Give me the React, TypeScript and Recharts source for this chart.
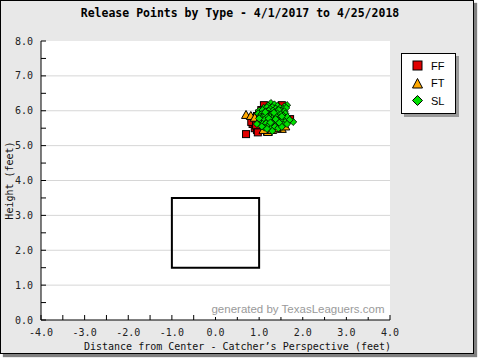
import React from 'react';
import { ScatterChart, Scatter, XAxis, YAxis, CartesianGrid, ReferenceArea, Legend, Label } from 'recharts';

const ffPoints = [
  { x: 0.70, y: 5.33 }, { x: 0.85, y: 5.62 }, { x: 0.90, y: 5.50 }, { x: 0.95, y: 5.45 },
  { x: 1.00, y: 5.55 }, { x: 1.05, y: 5.48 }, { x: 0.92, y: 5.70 }, { x: 0.88, y: 5.78 },
  { x: 0.98, y: 5.66 }, { x: 1.02, y: 5.80 }, { x: 1.08, y: 5.60 }, { x: 1.12, y: 5.52 },
  { x: 1.15, y: 5.70 }, { x: 1.00, y: 5.92 }, { x: 0.95, y: 5.85 }, { x: 1.10, y: 5.95 },
  { x: 1.11, y: 6.16 }, { x: 1.18, y: 6.05 }, { x: 1.22, y: 5.60 }, { x: 1.25, y: 5.45 },
  { x: 1.30, y: 5.52 }, { x: 1.35, y: 5.75 }, { x: 1.40, y: 5.90 }, { x: 1.52, y: 6.16 },
  { x: 1.45, y: 6.05 }, { x: 1.55, y: 5.95 }, { x: 1.71, y: 5.76 }, { x: 1.60, y: 5.70 },
  { x: 1.05, y: 6.02 }, { x: 0.82, y: 5.68 }, { x: 0.93, y: 5.58 }, { x: 1.18, y: 5.42 },
  { x: 1.28, y: 5.98 }, { x: 1.38, y: 6.10 }, { x: 1.48, y: 5.62 }, { x: 0.97, y: 5.38 },
  { x: 1.08, y: 5.78 }, { x: 1.20, y: 5.88 },
];

const ftPoints = [
  { x: 0.70, y: 5.88 }, { x: 0.81, y: 5.85 }, { x: 1.20, y: 5.39 }, { x: 1.52, y: 5.48 },
  { x: 1.30, y: 5.45 }, { x: 1.40, y: 5.50 }, { x: 0.90, y: 5.80 }, { x: 1.60, y: 5.55 },
  { x: 1.10, y: 5.45 }, { x: 1.35, y: 5.95 }, { x: 1.55, y: 5.80 }, { x: 1.00, y: 5.72 },
];

const slPoints = [
  { x: 1.27, y: 6.22 }, { x: 1.35, y: 6.18 }, { x: 1.64, y: 6.16 }, { x: 1.58, y: 6.12 },
  { x: 1.20, y: 6.15 }, { x: 1.42, y: 6.14 },
  { x: 1.10, y: 6.08 }, { x: 1.18, y: 6.10 }, { x: 1.30, y: 6.10 }, { x: 1.38, y: 6.06 },
  { x: 1.48, y: 6.08 }, { x: 1.55, y: 6.05 }, { x: 1.62, y: 6.08 }, { x: 1.25, y: 6.05 },
  { x: 1.00, y: 6.00 }, { x: 1.08, y: 6.02 }, { x: 1.15, y: 5.98 }, { x: 1.22, y: 6.00 },
  { x: 1.32, y: 6.00 }, { x: 1.40, y: 5.98 }, { x: 1.50, y: 6.00 }, { x: 1.58, y: 5.98 },
  { x: 1.45, y: 6.02 },
  { x: 0.98, y: 5.92 }, { x: 1.05, y: 5.90 }, { x: 1.12, y: 5.90 }, { x: 1.20, y: 5.92 },
  { x: 1.28, y: 5.90 }, { x: 1.35, y: 5.88 }, { x: 1.42, y: 5.92 }, { x: 1.50, y: 5.90 },
  { x: 1.60, y: 5.92 }, { x: 1.55, y: 5.86 },
  { x: 1.02, y: 5.82 }, { x: 1.10, y: 5.84 }, { x: 1.18, y: 5.80 }, { x: 1.25, y: 5.82 },
  { x: 1.32, y: 5.80 }, { x: 1.40, y: 5.82 }, { x: 1.48, y: 5.80 }, { x: 1.56, y: 5.78 },
  { x: 1.65, y: 5.82 }, { x: 1.15, y: 5.86 },
  { x: 1.05, y: 5.72 }, { x: 1.12, y: 5.74 }, { x: 1.20, y: 5.70 }, { x: 1.28, y: 5.72 },
  { x: 1.36, y: 5.70 }, { x: 1.44, y: 5.72 }, { x: 1.52, y: 5.70 }, { x: 1.60, y: 5.68 },
  { x: 1.78, y: 5.68 }, { x: 1.70, y: 5.74 },
  { x: 1.08, y: 5.62 }, { x: 1.16, y: 5.64 }, { x: 1.24, y: 5.60 }, { x: 1.32, y: 5.62 },
  { x: 1.40, y: 5.60 }, { x: 1.48, y: 5.62 }, { x: 1.56, y: 5.60 }, { x: 1.64, y: 5.62 },
  { x: 1.20, y: 5.55 },
  { x: 1.12, y: 5.52 }, { x: 1.28, y: 5.50 }, { x: 1.36, y: 5.54 }, { x: 1.44, y: 5.50 },
  { x: 1.52, y: 5.54 }, { x: 1.30, y: 5.42 }, { x: 1.18, y: 5.48 },
  { x: 1.22, y: 5.78 }, { x: 1.34, y: 5.94 }, { x: 1.46, y: 5.66 }, { x: 1.38, y: 5.76 },
  { x: 1.26, y: 5.66 }, { x: 1.14, y: 5.96 }, { x: 1.52, y: 5.84 }, { x: 1.00, y: 5.78 },
  { x: 0.95, y: 5.62 }, { x: 1.06, y: 5.55 },
];

const xTicks = [-4, -3.5, -3, -2.5, -2, -1.5, -1, -0.5, 0, 0.5, 1, 1.5, 2, 2.5, 3, 3.5, 4];
const yTicks = [0, 0.5, 1, 1.5, 2, 2.5, 3, 3.5, 4, 4.5, 5, 5.5, 6, 6.5, 7, 7.5, 8];
const yDomain = [0, 8];
const xDomain = [-4, 4];
const gridY = [1, 2, 3, 4, 5, 6, 7];
const strikeZone = { x1: -1, x2: 1, y1: 1.5, y2: 3.5 };

const RED = '#e00000';
const ORANGE = '#ffa800';
const GREEN = '#00e000';
const MONO = '"DejaVu Sans Mono", monospace';

const fmt = (v: number) => (Number.isInteger(v) ? v.toFixed(1) : '');

const gridGen = (args: any) => {
  const off = args.offset || {};
  const top = off.top ?? 0;
  const h = off.height ?? 0;
  return gridY.map((v) => top + h * (1 - (v - yDomain[0]) / (yDomain[1] - yDomain[0])));
};

const SquareShape = (p: any) => (
  <rect x={p.cx - 3.5} y={p.cy - 3.5} width={7} height={7} fill={RED} stroke="#000" strokeWidth={1} />
);
const TriangleShape = (p: any) => (
  <polygon
    points={`${p.cx},${p.cy - 4.5} ${p.cx + 4.5},${p.cy + 3.5} ${p.cx - 4.5},${p.cy + 3.5}`}
    fill={ORANGE}
    stroke="#000"
    strokeWidth={1}
  />
);
const DiamondShape = (p: any) => (
  <polygon
    points={`${p.cx},${p.cy - 3.6} ${p.cx + 3.6},${p.cy} ${p.cx},${p.cy + 3.6} ${p.cx - 3.6},${p.cy}`}
    fill={GREEN}
    stroke="#000"
    strokeWidth={0.8}
  />
);

const legendIcon = (name: string) => {
  if (name === 'FF') return <rect x={1} y={1} width={9} height={9} fill={RED} stroke="#000" strokeWidth={1} />;
  if (name === 'FT') return <polygon points="5.5,0.5 10.5,10 0.5,10" fill={ORANGE} stroke="#000" strokeWidth={1} />;
  return <polygon points="5.5,0.5 10.5,5.5 5.5,10.5 0.5,5.5" fill={GREEN} stroke="#000" strokeWidth={1} />;
};

const LegendContent = (props: any) => {
  const payload = props.payload || [];
  return (
    <div
      style={{
        width: 53,
        height: 56,
        background: '#fff',
        border: '1px solid #000',
        boxShadow: '3px 3px 0 #9a9a9a',
        paddingTop: 3,
        boxSizing: 'content-box',
      }}
    >
      {payload.map((e: any) => (
        <div key={e.value} style={{ display: 'flex', alignItems: 'center', height: 17.5 }}>
          <svg width={11} height={11} style={{ marginLeft: 10, marginRight: 8 }}>
            {legendIcon(e.value)}
          </svg>
          <span style={{ fontFamily: '"Liberation Sans", Arial, sans-serif', fontSize: 11, color: '#000' }}>{e.value}</span>
        </div>
      ))}
    </div>
  );
};

export default function App() {
  return (
    <div style={{ position: 'absolute', left: 0, top: 0, width: 480, height: 360, background: '#fff' }}>
      <div
        style={{
          position: 'absolute',
          left: 0,
          top: 0,
          width: 472,
          height: 352,
          border: '1px solid #000',
          background: '#e8e8e8',
          boxShadow: '3px 3px 1px #808080',
        }}
      />
      <div
        style={{
          position: 'absolute',
          left: 0,
          top: 6,
          width: 480,
          textAlign: 'center',
          fontFamily: MONO,
          fontWeight: 'bold',
          fontSize: 11.5,
          lineHeight: '14px',
          color: '#000',
        }}
      >
        Release Points by Type - 4/1/2017 to 4/25/2018
      </div>
      <div style={{ position: 'absolute', left: 0, top: 0 }}>
        <ScatterChart width={480} height={360} margin={{ top: 41, right: 90, left: 0, bottom: 0 }}>
          <CartesianGrid
            fill="#fff"
            stroke="#d6d6d6"
            vertical={false}
            horizontalCoordinatesGenerator={gridGen}
          />
          <XAxis
            type="number"
            dataKey="x"
            domain={xDomain}
            ticks={xTicks}
            interval={0}
            tickFormatter={fmt}
            tickSize={-5}
            tickMargin={14}
            height={40}
            stroke="#000"
            tick={{ fill: '#222', fontFamily: MONO, fontSize: 10 }}
            allowDataOverflow
          >
            <Label
              value="Distance from Center - Catcher’s Perspective (feet)"
              position="insideBottom"
              offset={10}
              dx={22}
              style={{ fill: '#111', fontFamily: MONO, fontSize: 10 }}
            />
          </XAxis>
          <YAxis
            type="number"
            dataKey="y"
            domain={yDomain}
            ticks={yTicks}
            interval={0}
            tickFormatter={fmt}
            tickSize={-5}
            tickMargin={13}
            width={41}
            stroke="#000"
            tick={{ fill: '#222', fontFamily: MONO, fontSize: 10 }}
            allowDataOverflow
          >
            <Label
              value="Height (feet)"
              angle={-90}
              position="insideLeft"
              offset={9}
              style={{ fill: '#111', fontFamily: MONO, fontSize: 10, textAnchor: 'middle' }}
            />
          </YAxis>
          <ReferenceArea
            x1={strikeZone.x1}
            x2={strikeZone.x2}
            y1={strikeZone.y1}
            y2={strikeZone.y2}
            fill="none"
            fillOpacity={0}
            stroke="#000"
            strokeWidth={2}
          />
          <Legend
            layout="vertical"
            align="center"
            verticalAlign="middle"
            content={<LegendContent />}
            wrapperStyle={{ left: 401, top: 53, width: 60, height: 62 }}
          />
          <Scatter name="FF" data={ffPoints} fill={RED} shape={SquareShape} isAnimationActive={false} />
          <Scatter name="FT" data={ftPoints} fill={ORANGE} shape={TriangleShape} isAnimationActive={false} />
          <Scatter name="SL" data={slPoints} fill={GREEN} shape={DiamondShape} isAnimationActive={false} />
        </ScatterChart>
      </div>
      <div
        style={{
          position: 'absolute',
          left: 208,
          top: 301,
          width: 180,
          height: 16,
          background: '#fff',
          color: '#9a9a9a',
          fontFamily: '"Liberation Sans", Arial, sans-serif',
          fontSize: 11.5,
          lineHeight: '16px',
          textAlign: 'center',
        }}
      >
        generated by TexasLeaguers.com
      </div>
    </div>
  );
}
